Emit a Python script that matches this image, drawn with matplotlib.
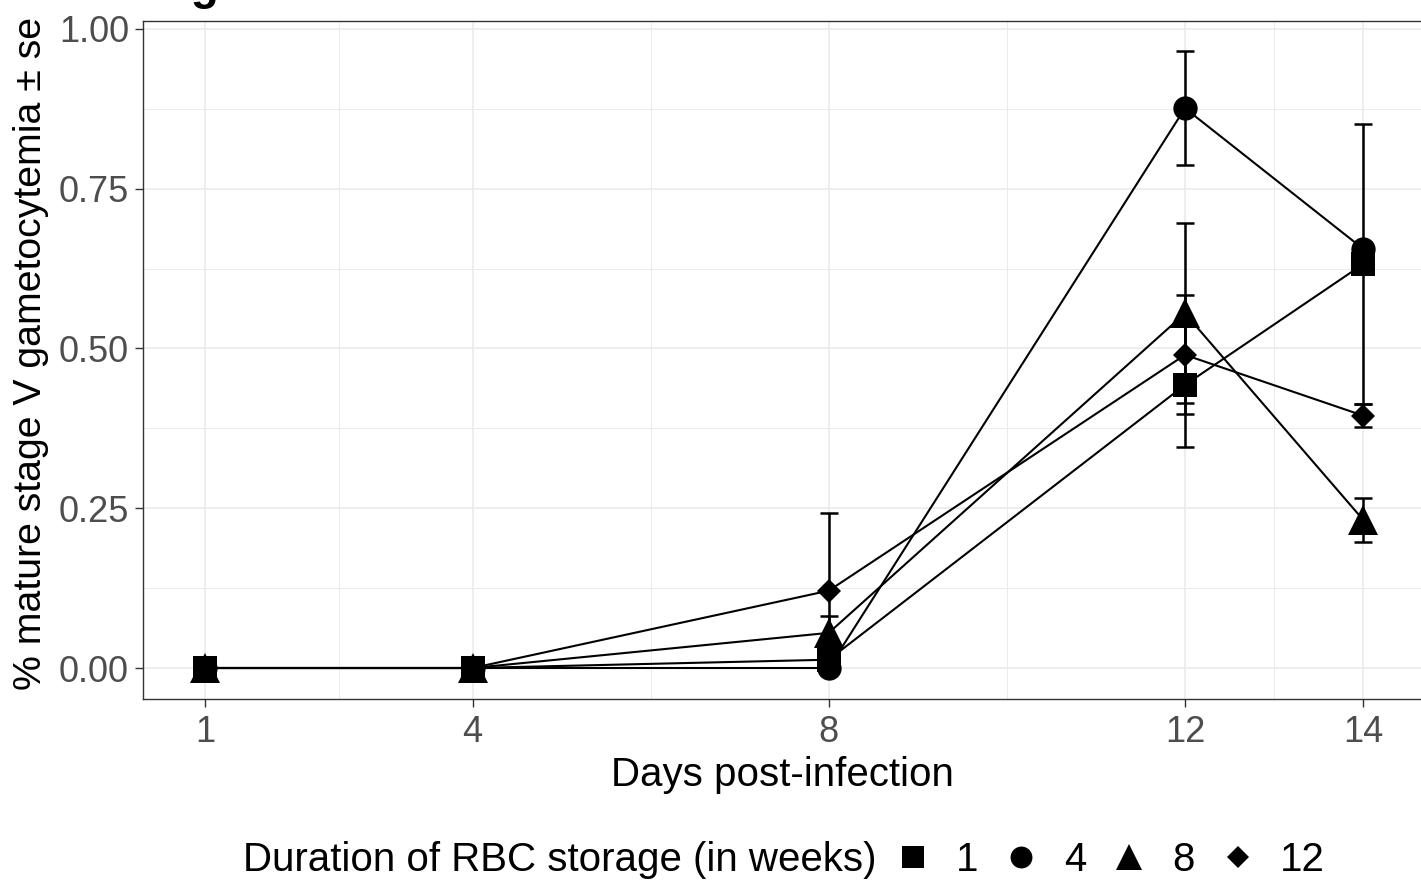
import matplotlib
matplotlib.use("Agg")
import matplotlib.pyplot as plt
from matplotlib.lines import Line2D
from matplotlib.ticker import FixedLocator

plt.rcParams["font.family"] = ["Liberation Sans", "DejaVu Sans"]

# sampling days and mean % of mature stage V gametocytes per storage duration
days = [1, 4, 8, 12, 14]
storage_weeks = ["1", "4", "8", "12"]

week1_mean = [0.0, 0.0, 0.013, 0.443, 0.632]
week1_se = [0.0, 0.0, 0.008, 0.097, 0.219]
week4_mean = [0.0, 0.0, 0.0, 0.876, 0.656]
week4_se = [0.0, 0.0, 0.0, 0.089, 0.01]
week8_mean = [0.0, 0.0, 0.055, 0.555, 0.232]
week8_se = [0.0, 0.0, 0.026, 0.141, 0.0345]
week12_mean = [0.0, 0.0, 0.121, 0.49, 0.395]
week12_se = [0.0, 0.0, 0.122, 0.093, 0.018]

means = [week1_mean, week4_mean, week8_mean, week12_mean]
ses = [week1_se, week4_se, week8_se, week12_se]
markers = ["s", "o", "^", "D"]
msizes = [17.5, 17.5, 21, 12.5]

W, H = 1421, 883
fig = plt.figure(figsize=(W / 100, H / 100), dpi=100)
ax = fig.add_axes([143 / W, 1 - 699 / H, (W - 143) / W, (699 - 21) / H])

for m, s, mk, ms in zip(means, ses, markers, msizes):
    ax.plot(days, m, color="black", lw=1.5, zorder=3)
    ax.errorbar(days, m, yerr=s, fmt="none", ecolor="black", elinewidth=1.8,
                capsize=6.5, capthick=1.8, zorder=3)
    ax.plot(days, m, ls="none", marker=mk, ms=ms, color="black", mew=0, zorder=4)

ax.set_xlim(0.3, 14.65)
ax.set_ylim(-0.0485, 1.0125)
ax.set_xticks(days)
ax.set_xticklabels([str(d) for d in days])
ax.set_yticks([0, 0.25, 0.5, 0.75, 1.0])
ax.set_yticklabels(["0.00", "0.25", "0.50", "0.75", "1.00"])
ax.xaxis.set_minor_locator(FixedLocator([2.5, 6, 10, 13]))
ax.yaxis.set_minor_locator(FixedLocator([0.125, 0.375, 0.625, 0.875]))
ax.grid(which="major", color="#EBEBEB", lw=1.2, zorder=0)
ax.grid(which="minor", color="#EBEBEB", lw=0.7, zorder=0)
ax.set_axisbelow(True)
ax.tick_params(which="major", length=5.5, width=1, color="#333333",
               labelcolor="#4D4D4D", labelsize=26)
ax.tick_params(axis="x", which="major", pad=6)
ax.tick_params(axis="y", which="major", pad=4.5)
ax.tick_params(which="minor", length=0)
for side in ["left", "bottom", "top"]:
    ax.spines[side].set_color("#333333")
    ax.spines[side].set_linewidth(1.0)
ax.spines["right"].set_visible(False)

ax.set_xlabel("Days post-infection", fontsize=29)
ax.set_ylabel("% mature stage V gametocytemia \u00b1 se", fontsize=28.3)
ax.xaxis.set_label_coords(0.5, -0.084)
ax.yaxis.set_label_coords(-0.0735, 0.51)

# panel tag, sits just above the top edge
fig.text(150 / W, 1 + 1 / H, "Fig. 5", fontsize=33, fontweight="bold", va="baseline")

# legend along the bottom
fig.text(243 / W, 1 - 860 / H, "Duration of RBC storage (in weeks)", fontsize=29,
         va="center", ha="left")
handles = [Line2D([], [], ls="none", marker=mk, ms=ms * 0.9, color="black", mew=0)
           for mk, ms in zip(markers, msizes)]
fig.legend(handles, storage_weeks, ncol=4, loc="center left",
           bbox_to_anchor=(893 / W, 1 - 860 / H), frameon=False, fontsize=29,
           borderpad=0, borderaxespad=0, handlelength=1.0, handletextpad=0.55,
           columnspacing=0.58)

fig.savefig("out.png", dpi=100)
